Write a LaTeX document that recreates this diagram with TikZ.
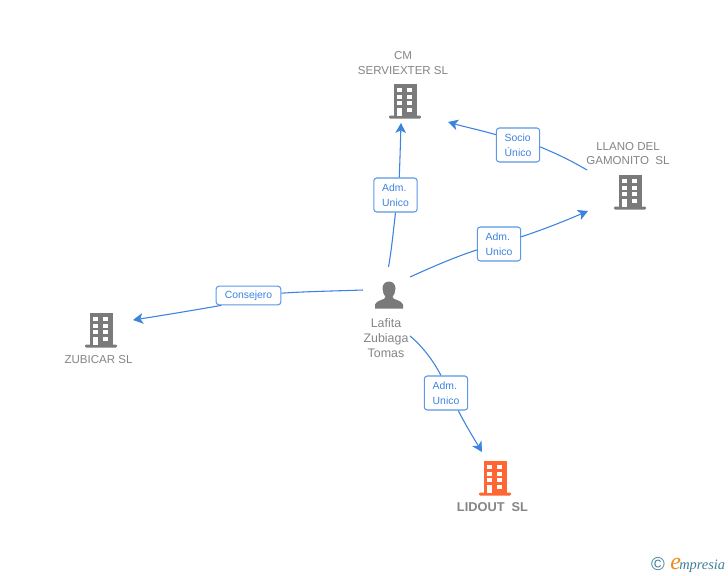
\documentclass[tikz,border=0pt]{standalone}
\usepackage{fontspec}
\setmainfont{Liberation Sans}
\newfontfamily\logofont{Liberation Serif}
\usetikzlibrary{arrows.meta}
\definecolor{linkblue}{HTML}{3C82E0}
\definecolor{boxblue}{HTML}{5C98E6}
\definecolor{txtgray}{HTML}{858585}
\definecolor{bldgray}{HTML}{7A7A7A}
\definecolor{bldorange}{HTML}{FF6633}
\definecolor{logoteal}{HTML}{3F7F99}
\definecolor{logoorange}{HTML}{F08A1D}
\tikzset{
  edgeline/.style={linkblue,line width=0.8pt},
  arrowline/.style={edgeline,-{Stealth[length=7.5pt,width=8pt,inset=2pt]}},
  rolebox/.style={draw=boxblue,line width=0.8pt,rounded corners=2.2pt,fill=white,text=linkblue,font=\fontsize{7.8}{11.2}\selectfont,align=left,inner sep=0pt},
  nametext/.style={text=txtgray,font=\fontsize{8.65}{11.2}\selectfont,align=center,inner sep=0pt},
  building/.pic={
    \fill[pic actions] (-11.5,-17) rectangle (11.5,15);
    \fill[pic actions,rounded corners=0.8pt] (-16,14.5) rectangle (16,17.5);
    \foreach \wy in {-13,-6.5,0}{
      \fill[white] (-7.8,\wy) rectangle (-2.7,\wy+4.2);
      \fill[white] (2.2,\wy) rectangle (7.3,\wy+4.2);
    }
    \fill[white] (-7.8,7) rectangle (-2.7,15);
    \fill[white] (2.2,7) rectangle (7.3,11.2);
  }
}
\begin{document}
\begin{tikzpicture}[x=0.75pt,y=-0.75pt]
\useasboundingbox[fill=white] (0,0) rectangle (728,575);

% company icons and names
\pic[fill=bldgray] at (405,101) {building};
\pic[fill=bldgray] at (630,192) {building};
\pic[fill=bldgray] at (101,330) {building};
\pic[fill=bldorange] at (495,478) {building};
\node[nametext] (cm) at (403,63) {CM\\SERVIEXTER SL};
\node[nametext] (llano) at (628,153.5) {LLANO DEL\\GAMONITO\ \ SL};
\node[nametext] (zubicar) at (98.5,359.5) {ZUBICAR SL};
\node[nametext,font=\bfseries\fontsize{9.6}{11}\selectfont] (lidout) at (492.5,507) {LIDOUT\ \ SL};

% person
\fill[bldgray] (389,281.5) .. controls (384.5,281.5) and (382.5,285) .. (382.5,288.5)
  .. controls (382.5,292) and (384,295) .. (385.5,297)
  .. controls (385.5,300) and (376,300) .. (375,304.5)
  -- (375,308.5) -- (403,308.5) -- (403,304.5)
  .. controls (402,300) and (392.5,300) .. (392.5,297)
  .. controls (394,295) and (395.5,292) .. (395.5,288.5)
  .. controls (395.5,285) and (393.5,281.5) .. (389,281.5) -- cycle;
\node[nametext,font=\fontsize{9.3}{11.25}\selectfont] (lafita) at (386,338) {Lafita\\Zubiaga\\Tomas};

% connector ends
\coordinate (pcm) at (388.5,267);
\coordinate (pll) at (410,277);
\coordinate (pzu) at (363,290);
\coordinate (pli) at (410,336);
\coordinate (sll) at (587,170);
\coordinate (tcm) at (401,123);
\coordinate (tll) at (588,211);
\coordinate (tzu) at (133,320);
\coordinate (tli) at (482,452);
\coordinate (tsoc) at (448,122);

% role boxes
\node[rolebox,minimum width=32.5pt,minimum height=25.5pt] (b1) at (395.5,195) {Adm.\\Unico};
\node[rolebox,minimum width=32.5pt,minimum height=25.5pt] (b2) at (499,244) {Adm.\\Unico};
\node[rolebox,minimum width=48.5pt,minimum height=14pt] (b3) at (248.5,295.5) {Consejero};
\node[rolebox,minimum width=32.5pt,minimum height=25.5pt] (b4) at (446,393) {Adm.\\Unico};
\node[rolebox,minimum width=32.5pt,minimum height=25.5pt] (b5) at (518,145) {Socio\\Único};

% connectors
\draw[edgeline] (pcm) .. controls (391.5,250) and (393.5,230) .. (b1.south);
\draw[arrowline] (b1.78) .. controls (400,160) and (400.5,140) .. (tcm);
\draw[edgeline] (pll) .. controls (432,267) and (455,257) .. (b2.195);
\draw[arrowline] (b2.18) .. controls (545,229) and (567,220) .. (tll);
\draw[edgeline] (pzu) .. controls (335,291) and (305,291.5) .. (b3.4);
\draw[arrowline] (b3.200) .. controls (195,310) and (165,315) .. (tzu);
\draw[edgeline] (pli) .. controls (422,346) and (433,360) .. (b4.106);
\draw[arrowline] (b4.-55) .. controls (465,424) and (473,437) .. (tli);
\draw[edgeline] (sll) .. controls (570,160) and (555,153) .. (b5.-5);
\draw[arrowline] (b5.155) .. controls (480,130) and (465,127) .. (tsoc);

% logo
\node[inner sep=0pt,text=logoteal,font=\fontsize{14}{14}\selectfont] (copy) at (658,564) {©};
\node[inner sep=0pt,anchor=base west,text=logoorange,font=\logofont\itshape\fontsize{18}{18}\selectfont] (logoe) at (670,569.5) {e};
\node[inner sep=0pt,anchor=base west,text=logoteal,font=\logofont\itshape\fontsize{10.8}{12}\selectfont] (logom) at (679,569.5) {mpresia};
\end{tikzpicture}
\end{document}
